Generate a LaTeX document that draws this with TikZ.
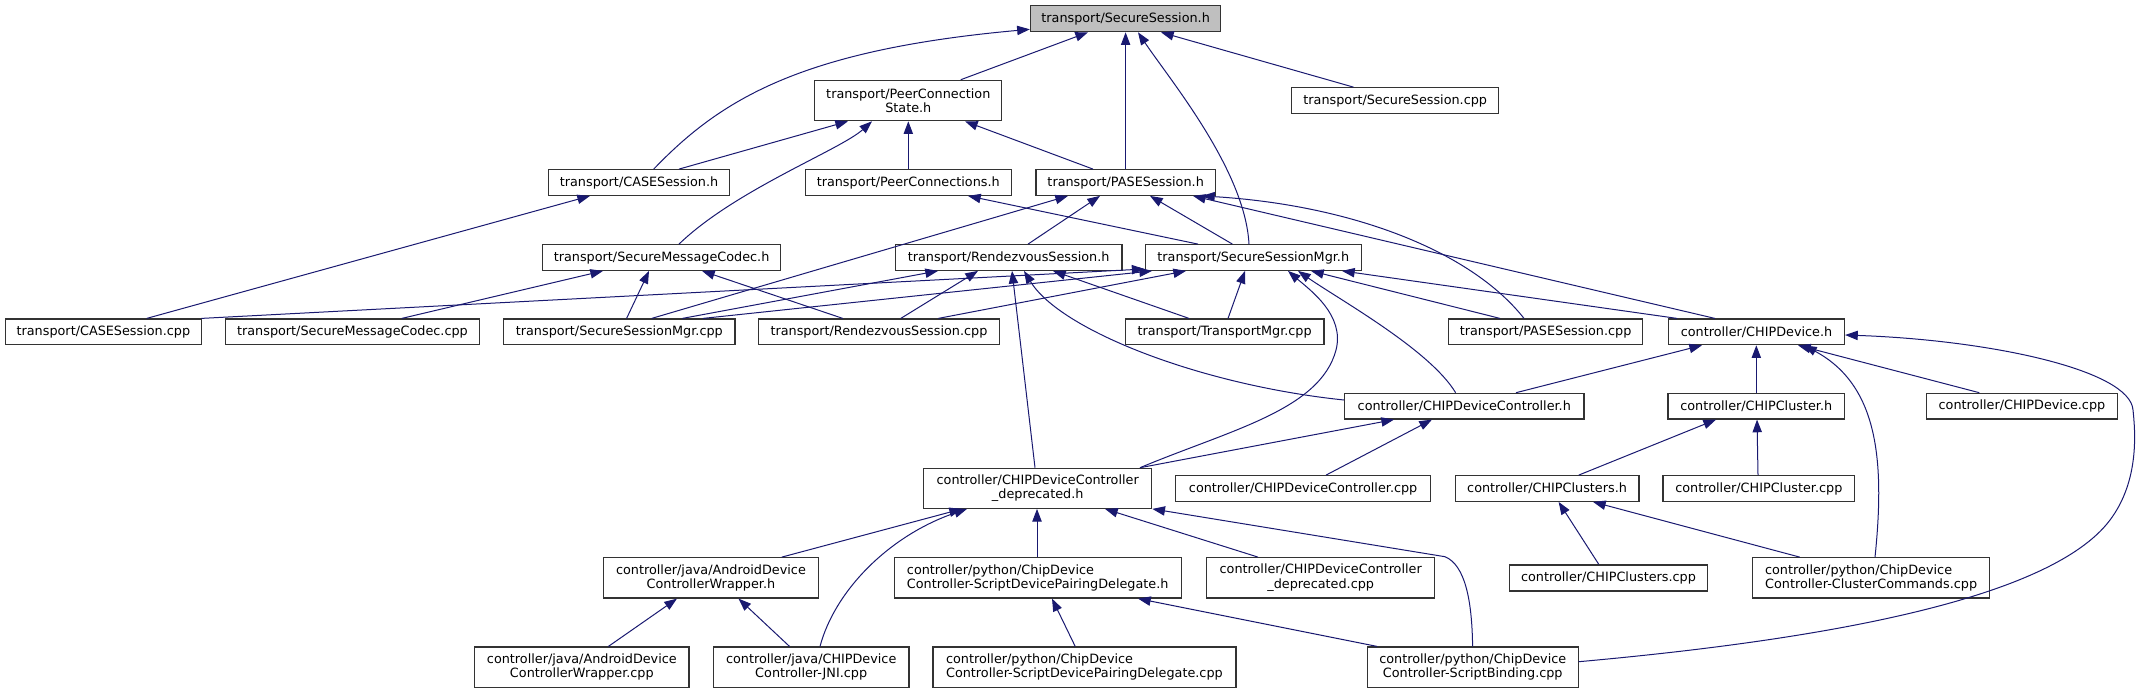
\documentclass[tikz,border=0pt]{standalone}
\usepackage{fontspec}
\setmainfont{DejaVu Sans}
\usetikzlibrary{arrows.meta}
\definecolor{mblue}{HTML}{191970}
\definecolor{bordc}{HTML}{333333}
\definecolor{rootfill}{HTML}{BFBFBF}
\newcommand\bx[7][]{%
  \pgfmathsetmacro\bxw{(#5-#3)*0.75}%
  \pgfmathsetmacro\bxh{(#6-#4)*0.75}%
  \pgfmathsetmacro\bxx{(#3+#5)/2}%
  \pgfmathsetmacro\bxy{(#4+#6)/2}%
  \node[box,#1,minimum width=\bxw pt,minimum height=\bxh pt] (#2) at (\bxx,\bxy) {#7};}
\begin{document}
\begin{tikzpicture}[x=0.75pt,y=-0.75pt,
  box/.style={draw=bordc,line width=0.9pt,fill=white,inner sep=0pt,align=center,
    font=\fontsize{9.6}{10.9}\selectfont},
  dep/.style={draw=mblue,line width=0.75pt,>={Triangle[length=9.5pt,width=7pt]},<-}]
\useasboundingbox (0,0) rectangle (2140,693);
% nodes
\bx[fill=rootfill]{ss}{1030.4}{5.7}{1220.8}{31.7}{transport/SecureSession.h}
\bx{pcs}{814.8}{80.3}{1001.8}{120.7}{transport/PeerConnection\\State.h}
\bx{sscpp}{1291.8}{87.7}{1498.6}{113.3}{transport/SecureSession.cpp}
\bx{caseh}{548.6}{169.7}{729.5}{195.3}{transport/CASESession.h}
\bx{pch}{805.2}{169.7}{1011.3}{195.3}{transport/PeerConnections.h}
\bx{paseh}{1035.9}{169.7}{1215.4}{195.3}{transport/PASESession.h}
\bx{smch}{542.5}{244.7}{780.7}{270.3}{transport/SecureMessageCodec.h}
\bx{rsh}{895.3}{244.7}{1121.9}{270.3}{transport/RendezvousSession.h}
\bx{ssmh}{1145.1}{244.7}{1361.4}{270.3}{transport/SecureSessionMgr.h}
\bx{casecpp}{5.5}{319}{201.3}{344.7}{transport/CASESession.cpp}
\bx{smccpp}{225.2}{319}{479.7}{344.7}{transport/SecureMessageCodec.cpp}
\bx{ssmcpp}{503.6}{319}{735}{344.7}{transport/SecureSessionMgr.cpp}
\bx{rscpp}{758.2}{319}{999.7}{344.7}{transport/RendezvousSession.cpp}
\bx{tmcpp}{1125.3}{319}{1323.9}{344.7}{transport/TransportMgr.cpp}
\bx{pasecpp}{1448.7}{319}{1642.5}{344.7}{transport/PASESession.cpp}
\bx{cdh}{1668.5}{319}{1844.5}{344.7}{controller/CHIPDevice.h}
\bx{cdch}{1344.6}{393.3}{1584}{419}{controller/CHIPDeviceController.h}
\bx{cch}{1668}{393.3}{1844.5}{419}{controller/CHIPCluster.h}
\bx{cdcpp}{1926.6}{393.3}{2117.3}{419}{controller/CHIPDevice.cpp}
\bx{deph}{923.7}{468.3}{1151.7}{508.3}{controller/CHIPDeviceController\\\_deprecated.h}
\bx{cdccpp}{1175.7}{475.7}{1430.6}{501.3}{controller/CHIPDeviceController.cpp}
\bx{cclsh}{1455.2}{475.7}{1638.9}{501.3}{controller/CHIPClusters.h}
\bx{cccpp}{1663}{475.7}{1854.7}{501.3}{controller/CHIPCluster.cpp}
\bx{adwh}{603.3}{557.7}{818.6}{598}{controller/java/AndroidDevice\\ControllerWrapper.h}
\bx[align=left]{sdpdh}{894.1}{557.7}{1181.3}{598}{controller/python/ChipDevice\\Controller-ScriptDevicePairingDelegate.h}
\bx{depcpp}{1206.8}{557.7}{1434.6}{598}{controller/CHIPDeviceController\\\_deprecated.cpp}
\bx{cclscpp}{1509.2}{565}{1707.8}{591}{controller/CHIPClusters.cpp}
\bx[align=left]{cccmd}{1752.6}{557.7}{1989.6}{598}{controller/python/ChipDevice\\Controller-ClusterCommands.cpp}
\bx{adwcpp}{474.7}{647}{689}{687.3}{controller/java/AndroidDevice\\ControllerWrapper.cpp}
\bx{jni}{713.5}{647}{908.9}{687.3}{controller/java/CHIPDevice\\Controller-JNI.cpp}
\bx[align=left]{sdpdcpp}{932.9}{647}{1235.9}{687.3}{controller/python/ChipDevice\\Controller-ScriptDevicePairingDelegate.cpp}
\bx{sbcpp}{1367.4}{647}{1578.1}{687.3}{controller/python/ChipDevice\\Controller-ScriptBinding.cpp}
% edges (arrow at the included file)
\draw[dep] (1088,0 |- ss.south) -- (960.8,0 |- pcs.north);
\draw[dep] (ss.west |- 0,29.3) .. controls (800,50) and (720,100) .. (653.7,0 |- caseh.north);
\draw[dep] (1125.6,0 |- ss.south) -- (1125.6,0 |- paseh.north);
\draw[dep] (1138,0 |- ss.south) .. controls (1170,80) and (1245,170) .. (1249,0 |- ssmh.north);
\draw[dep] (1161,0 |- ss.south) -- (1353.4,0 |- sscpp.north);
\draw[dep] (848,0 |- pcs.south) -- (679,0 |- caseh.north);
\draw[dep] (872,0 |- pcs.south) .. controls (840,150) and (735,190) .. (679,0 |- smch.north);
\draw[dep] (908.3,0 |- pcs.south) -- (908.3,0 |- pch.north);
\draw[dep] (965,0 |- pcs.south) -- (1093,0 |- paseh.north);
\draw[dep] (590,0 |- caseh.south) -- (146.7,0 |- casecpp.north);
\draw[dep] (1100,0 |- paseh.south) -- (1028,0 |- rsh.north);
\draw[dep] (1068,0 |- paseh.south) -- (651.7,0 |- ssmcpp.north);
\draw[dep] (1150,0 |- paseh.south) -- (1232.4,0 |- ssmh.north);
\draw[dep] (1202,0 |- paseh.south) .. controls (1350,205) and (1470,250) .. (1524,0 |- pasecpp.north);
\draw[dep] (1193,0 |- paseh.south) -- (1714.9,0 |- cdh.north);
\draw[dep] (968,0 |- pch.south) -- (1198,0 |- ssmh.north);
\draw[dep] (603,0 |- smch.south) -- (401.8,0 |- smccpp.north);
\draw[dep] (649,0 |- smch.south) -- (626.6,0 |- ssmcpp.north);
\draw[dep] (702,0 |- smch.south) -- (842.8,0 |- rscpp.north);
\draw[dep] (938,0 |- rsh.south) -- (682.4,0 |- ssmcpp.north);
\draw[dep] (978,0 |- rsh.south) -- (900.8,0 |- rscpp.north);
\draw[dep] (1012,0 |- rsh.south) -- (1035,0 |- deph.north);
\draw[dep] (1024,0 |- rsh.south) .. controls (1060,330) and (1200,385) .. (cdch.west |- 0,400);
\draw[dep] (1053,0 |- rsh.south) -- (1189,0 |- tmcpp.north);
\draw[dep] (ssmh.west |- 0,269) -- (201.3,0 |- casecpp.north);
\draw[dep] (1152,0 |- ssmh.south) -- (702.9,0 |- ssmcpp.north);
\draw[dep] (1186,0 |- ssmh.south) -- (938.3,0 |- rscpp.north);
\draw[dep] (1245,0 |- ssmh.south) -- (1228,0 |- tmcpp.north);
\draw[dep] (1288,0 |- ssmh.south) .. controls (1310,290) and (1345,315) .. (1336,350)
  .. controls (1320,410) and (1230,430) .. (1140,0 |- deph.north);
\draw[dep] (1298,0 |- ssmh.south) .. controls (1340,300) and (1430,350) .. (1455.6,0 |- cdch.north);
\draw[dep] (1311,0 |- ssmh.south) -- (1500,0 |- pasecpp.north);
\draw[dep] (1342,0 |- ssmh.south) -- (1677,0 |- cdh.north);
\draw[dep] (1702,0 |- cdh.south) -- (1516,0 |- cdch.north);
\draw[dep] (1756.3,0 |- cdh.south) -- (1756.3,0 |- cch.north);
\draw[dep] (1798,0 |- cdh.south) -- (1979.3,0 |- cdcpp.north);
\draw[dep] (1804,0 |- cdh.south) .. controls (1878,385) and (1885,460) .. (1875,0 |- cccmd.north);
\draw[dep] (cdh.east |- 0,335) .. controls (1990,340) and (2130,370) .. (2133,410)
  .. controls (2135,430) and (2140,480) .. (2110,520)
  .. controls (2050,600) and (1820,640) .. (sbcpp.east |- 0,661.7);
\draw[dep] (1394,0 |- cdch.south) -- (1140,0 |- deph.north);
\draw[dep] (1432,0 |- cdch.south) -- (1326,0 |- cdccpp.north);
\draw[dep] (1716,0 |- cch.south) -- (1578.7,0 |- cclsh.north);
\draw[dep] (1757,0 |- cch.south) -- (1758,0 |- cccpp.north);
\draw[dep] (1558.6,0 |- cclsh.south) -- (1598.8,0 |- cclscpp.north);
\draw[dep] (1593,0 |- cclsh.south) -- (1799.7,0 |- cccmd.north);
\draw[dep] (962,0 |- deph.south) -- (781.8,0 |- adwh.north);
\draw[dep] (967,0 |- deph.south) .. controls (890,535) and (835,590) .. (820,0 |- jni.north);
\draw[dep] (1037,0 |- deph.south) -- (1037,0 |- sdpdh.north);
\draw[dep] (1105,0 |- deph.south) -- (1258,0 |- depcpp.north);
\draw[dep] (deph.south east) -- (1445,556.7) .. controls (1465,565) and (1472,600) .. (1472.6,0 |- sbcpp.north);
\draw[dep] (677,0 |- adwh.south) -- (608.4,0 |- adwcpp.north);
\draw[dep] (738.5,0 |- adwh.south) -- (789.5,0 |- jni.north);
\draw[dep] (1052,0 |- sdpdh.south) -- (1075.2,0 |- sdpdcpp.north);
\draw[dep] (1138,0 |- sdpdh.south) -- (1377,0 |- sbcpp.north);
\end{tikzpicture}
\end{document}
